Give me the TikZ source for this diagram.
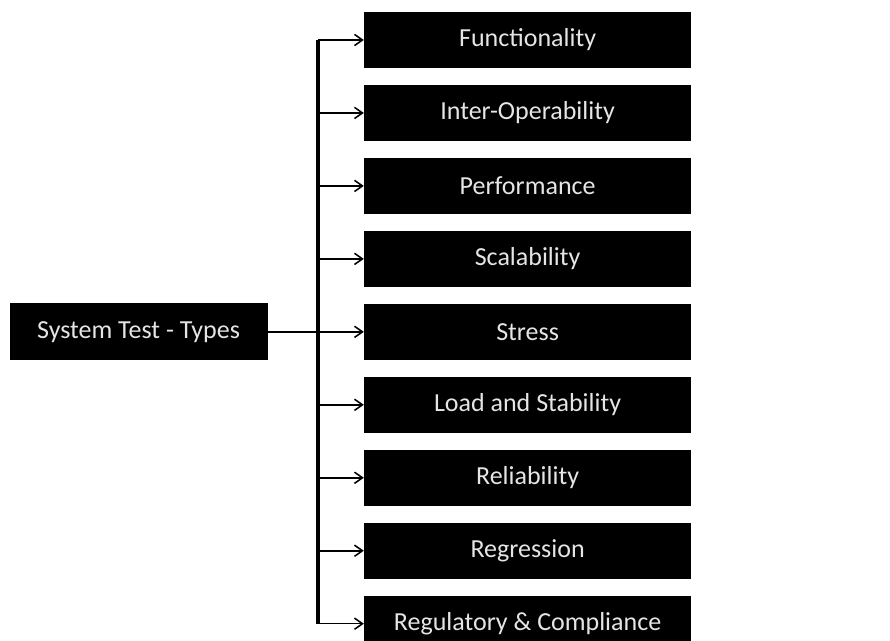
\documentclass[tikz,border=0pt]{standalone}
\usepackage{fontspec}
\setmainfont{Carlito}
\usetikzlibrary{arrows.meta,positioning}
\tikzset{
testtype/.style={fill=black,text=white!90!black,minimum width=8.175cm,minimum height=1.4cm,align=center,font=\fontsize{18.5}{22}\selectfont,inner sep=0pt},
rootbox/.style={fill=black,text=white!90!black,minimum width=6.45cm,minimum height=1.425cm,align=center,font=\fontsize{18.5}{22}\selectfont,inner sep=0pt},
trunk/.style={line width=2.2pt},
link/.style={line width=1.1pt},
branch/.style={-{Straight Barb[length=2mm,width=2.8mm]},line width=1.1pt}
}

\begin{document}
\begin{tikzpicture}[node distance=.41cm]
\useasboundingbox (0,0) rectangle (22.25,-16.025);
\node[testtype] (fn) at (13.19,-1.0) {Functionality};
\node[testtype,below=of fn](io){Inter-Operability};
\node[testtype,below=of io](pf){Performance};
\node[testtype,below=of pf](sc){Scalability};
\node[testtype,below=of sc](st){Stress};
\node[testtype,below=of st](ls){Load and Stability};
\node[testtype,below=of ls](rl){Reliability};
\node[testtype,below=of rl](rg){Regression};
\node[testtype,below=of rg](rc){Regulatory \& Compliance};
\node[rootbox,left=2.4cm of st](sys){System Test - Types};
\coordinate (tr) at (7.95,0);
\draw[trunk](tr |- fn.west)--(tr |- rc.west);
\draw[link](sys.east)--(sys.east -| tr);
\foreach \t in {fn,io,pf,sc,st,ls,rl,rg,rc}
  \draw[branch](tr |- \t.west)--(\t.west);
\end{tikzpicture}
\end{document}
